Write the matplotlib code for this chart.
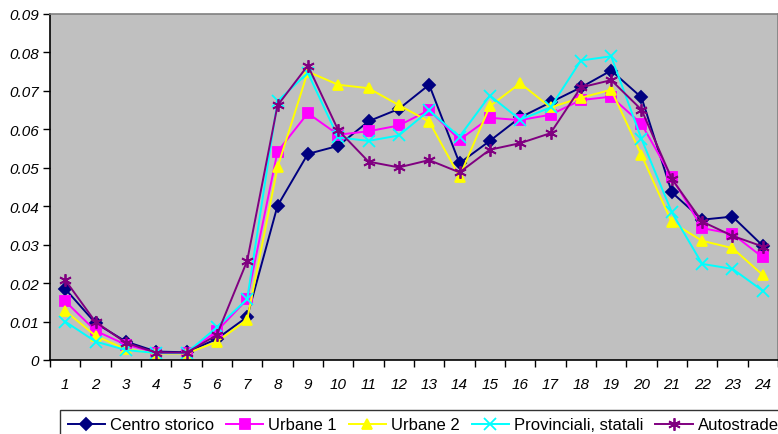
import matplotlib.pyplot as plt
import numpy as np

plt.rcParams['font.family'] = ['Liberation Sans', 'DejaVu Sans']

hours = list(range(1, 25))

centro_storico = [0.0185, 0.0096, 0.0048, 0.0022, 0.0020, 0.0055, 0.0112, 0.0401,
                  0.0536, 0.0557, 0.0621, 0.0653, 0.0716, 0.0512, 0.0570, 0.0631,
                  0.0670, 0.0709, 0.0753, 0.0683, 0.0436, 0.0365, 0.0373, 0.0297]
urbane_1 = [0.0153, 0.0076, 0.0040, 0.0019, 0.0018, 0.0075, 0.0158, 0.0542,
            0.0642, 0.0586, 0.0595, 0.0610, 0.0650, 0.0573, 0.0630, 0.0624,
            0.0638, 0.0676, 0.0685, 0.0614, 0.0475, 0.0343, 0.0328, 0.0267]
urbane_2 = [0.0128, 0.0063, 0.0028, 0.0017, 0.0017, 0.0047, 0.0105, 0.0501,
            0.0750, 0.0716, 0.0707, 0.0663, 0.0620, 0.0477, 0.0660, 0.0720,
            0.0657, 0.0682, 0.0703, 0.0533, 0.0358, 0.0310, 0.0291, 0.0221]
provinciali = [0.0100, 0.0048, 0.0026, 0.0018, 0.0018, 0.0085, 0.0158, 0.0673,
               0.0747, 0.0579, 0.0570, 0.0584, 0.0649, 0.0581, 0.0688, 0.0625,
               0.0657, 0.0779, 0.0790, 0.0575, 0.0384, 0.0250, 0.0237, 0.0180]
autostrade = [0.0208, 0.0099, 0.0045, 0.0019, 0.0019, 0.0065, 0.0258, 0.0662,
              0.0766, 0.0598, 0.0516, 0.0501, 0.0520, 0.0488, 0.0547, 0.0564,
              0.0590, 0.0709, 0.0728, 0.0651, 0.0471, 0.0360, 0.0323, 0.0295]

series = [
    ('Centro storico', centro_storico, '#000080', 'D', 6),
    ('Urbane 1', urbane_1, '#FF00FF', 's', 7),
    ('Urbane 2', urbane_2, '#FFFF00', '^', 7.5),
    ('Provinciali, statali', provinciali, '#00FFFF', 'x', 8),
    ('Autostrade', autostrade, '#800080', (6, 2, 0), 9),
]

fig = plt.figure(figsize=(7.78, 4.35), dpi=100)
ax = fig.add_axes([50 / 778, 74 / 435, 728 / 778, 346 / 435])
ax.set_facecolor('#C0C0C0')

x = np.arange(len(hours))
for name, vals, color, marker, ms in series:
    ax.plot(x, vals, color=color, linewidth=1.4, marker=marker, markersize=ms,
            markerfacecolor=color, markeredgecolor=color, markeredgewidth=1.3,
            label=name)

ax.set_xlim(-0.5, len(hours) - 0.5)
ax.set_ylim(0, 0.09)
ax.set_yticks(np.arange(0, 0.091, 0.01))
ax.set_yticklabels(['0'] + [f'{v:.2f}' for v in np.arange(0.01, 0.091, 0.01)],
                   fontsize=11, fontstyle='italic')

# category labels at centres, tick marks between categories
ax.set_xticks(x)
ax.set_xticklabels([str(h) for h in hours], fontsize=11, fontstyle='italic')
ax.tick_params(axis='x', which='major', length=0, pad=12)
ax.set_xticks(np.arange(-0.5, len(hours), 1), minor=True)
ax.tick_params(axis='x', which='minor', length=5, width=1, direction='out')
ax.tick_params(axis='y', length=5, width=1, direction='out', pad=3)

for side in ['left', 'bottom']:
    ax.spines[side].set_color('black')
    ax.spines[side].set_linewidth(1.2)
for side in ['top', 'right']:
    ax.spines[side].set_color('#808080')
    ax.spines[side].set_linewidth(1.2)

leg = ax.legend(loc='upper left', bbox_to_anchor=(60 / 778, 1 - 411 / 435),
                bbox_transform=fig.transFigure, ncol=5, fontsize=12,
                frameon=True, fancybox=False, borderaxespad=0,
                handlelength=2.25, handletextpad=0.3, columnspacing=0.7,
                borderpad=0.45)
leg.get_frame().set_edgecolor('black')
leg.get_frame().set_linewidth(1)

fig.savefig('out.png', dpi=100)
